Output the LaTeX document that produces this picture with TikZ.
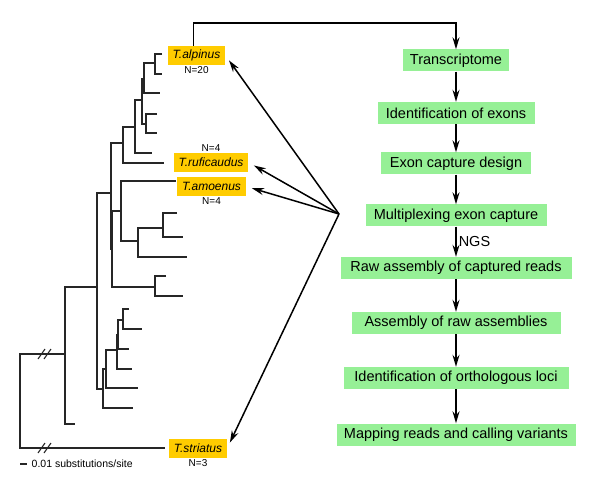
\documentclass[tikz,border=0pt]{standalone}
\usepackage{fontspec}
\setmainfont{Liberation Sans}
\usetikzlibrary{arrows.meta}
\definecolor{stepgreen}{RGB}{150,240,150}
\definecolor{taxgold}{RGB}{255,204,0}
\tikzset{
    stepbox/.style={fill=stepgreen, minimum height=22pt, inner xsep=4pt, font=\fontsize{14.5}{17}\selectfont},
    taxon/.style={fill=taxgold, minimum height=19pt, inner xsep=5pt, font=\fontsize{12}{14}\selectfont\itshape},
    count/.style={inner sep=1.5pt, font=\fontsize{10}{12}\selectfont},
    flow/.style={-{Stealth[length=12pt,width=7pt,inset=4pt]}, line width=1.5pt},
    branch/.style={line width=1.1pt, black!85},
}
\begin{document}
\begin{tikzpicture}[x=1pt,y=-1pt]
    \useasboundingbox (0,0) rectangle (600,489);
    % tree
    \draw[branch] (65,354) -- (20,354) -- (20,448) -- (165,448);
    \draw[branch] (38,359) -- (45,349) (44,359) -- (51,349);
    \draw[branch] (38,453) -- (45,443) (44,453) -- (51,443);
    \draw[branch] (97,287) -- (65,287) -- (65,424) -- (75,424);
    \draw[branch] (111,193) -- (97,193) -- (97,389) -- (103,389);
    \draw[branch] (123,143) -- (111,143) -- (111,249) -- (112,249);
    \draw[branch] (135,127) -- (123,127) -- (123,163) -- (164,163);
    \draw[branch] (142,100) -- (135,100) -- (135,153) -- (152,153);
    \draw[branch] (144,79) -- (142,79) -- (142,124) -- (146,124);
    \draw[branch] (155,63) -- (144,63) -- (144,93) -- (160,93);
    \draw[branch] (162,54) -- (155,54) -- (155,74) -- (162,74);
    \draw[branch] (157,114) -- (146,114) -- (146,133) -- (157,133);
    \draw[branch] (121,211) -- (112,211) -- (112,287) -- (155,287);
    \draw[branch] (176,181) -- (121,181) -- (121,241) -- (138,241);
    \draw[branch] (163,228) -- (138,228) -- (138,257) -- (187,257);
    \draw[branch] (177,213) -- (163,213) -- (163,237) -- (183,237);
    \draw[branch] (166,276) -- (155,276) -- (155,296) -- (183,296);
    \draw[branch] (106,369) -- (103,369) -- (103,408) -- (133,408);
    \draw[branch] (117,350) -- (106,350) -- (106,388) -- (138,388);
    \draw[branch] (118,335) -- (117,335) -- (117,369) -- (132,369);
    \draw[branch] (123,320) -- (118,320) -- (118,349) -- (129,349);
    \draw[branch] (129,309) -- (123,309) -- (123,329) -- (142,329);
    \draw[branch] (20,464) -- (27,464);
    \node[count, anchor=west, font=\fontsize{10.5}{12}\selectfont] (scalebar) at (30,464) {0.01 substitutions/site};
    % taxa
    \node[taxon] (alp) at (196.5,55.5) {T.alpinus};
    \node[taxon] (ruf) at (211,162.5) {T.ruficaudus};
    \node[taxon] (amo) at (211.5,186.5) {T.amoenus};
    \node[taxon] (str) at (198,448) {T.striatus};
    \node[count, anchor=north] (nalp) at (alp.south) {N=20};
    \node[count, anchor=south] (nruf) at (ruf.north) {N=4};
    \node[count, anchor=north] (namo) at (amo.south) {N=4};
    \node[count, anchor=north] (nstr) at (str.south) {N=3};
    % pipeline
    \foreach \n/\y/\w/\txt in {s1/60.5/106/Transcriptome, s2/113/157/Identification of exons,
        s3/163.5/150/Exon capture design, s4/215.5/181/Multiplexing exon capture,
        s5/268/231/Raw assembly of captured reads, s6/323/209/Assembly of raw assemblies,
        s7/378/225/Identification of orthologous loci, s8/434.5/239/Mapping reads and calling variants}
        \node[stepbox, minimum width=\w pt] (\n) at (456,\y) {\txt};
    \foreach \a/\b in {s1/s2, s2/s3, s3/s4, s5/s6, s6/s7, s7/s8}
        \draw[flow] (\a) -- (\b);
    \draw[flow] (s4) -- node[right, inner sep=2pt, font=\fontsize{14.5}{17}\selectfont] (ngs) {NGS} (s5);
    \draw[flow] ([xshift=-3pt]alp.north) -- ([xshift=-3pt]alp.north |- 0,23) -| (s1.north);
    \coordinate (hub) at (339,214);
    \foreach \t in {alp, ruf, amo, str}
        \draw[flow, shorten >=6pt] (hub) -- (\t.east);
\end{tikzpicture}
\end{document}
